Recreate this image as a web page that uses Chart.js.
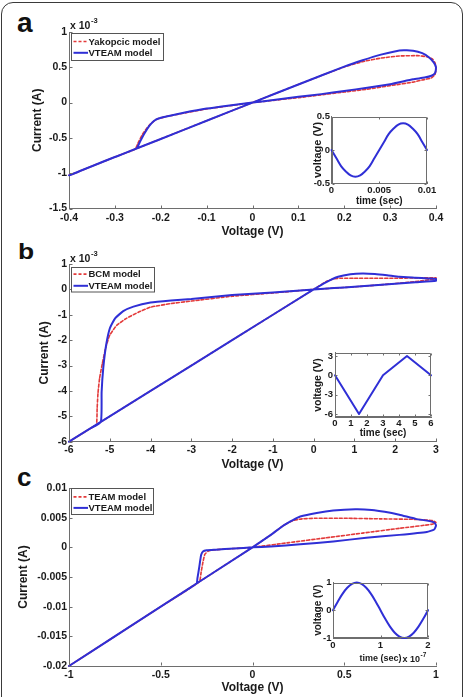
<!DOCTYPE html>
<html lang="en">
<head>
<meta charset="UTF-8">
<title>VTEAM model comparison</title>
<script src="https://cdn.jsdelivr.net/npm/chart.js"></script>
<style>
    body {
        margin: 0;
        background: #fff;
        width: 467px;
        height: 697px;
        overflow: hidden;
        position: relative;
        font-family: "Liberation Sans", Arial, sans-serif;
    }
    .frame {
        position: absolute;
        left: 1px;
        top: 2px;
        width: 460px;
        height: 730px;
        border: 1.5px solid #3a3a3a;
        border-radius: 12px;
    }
    canvas { position: absolute; }
    .letter {
        position: absolute;
        font-weight: bold;
        line-height: 1;
        color: #111;
        transform-origin: left top;
    }
</style>
</head>
<body>
<div class="frame"></div>
<div class="letter" style="left:17px;top:9px;font-size:28px">a</div>
<div class="letter" style="left:18px;top:241px;font-size:22px;transform:scaleX(1.2)">b</div>
<div class="letter" style="left:17px;top:464px;font-size:26px">c</div>

<canvas id="mainA" width="467" height="240" style="left:0;top:0"></canvas>
<canvas id="mainB" width="467" height="232" style="left:0;top:240px"></canvas>
<canvas id="mainC" width="467" height="225" style="left:0;top:472px"></canvas>
<canvas id="insetA" width="150" height="112" style="left:290px;top:100px"></canvas>
<canvas id="insetB" width="150" height="115" style="left:290px;top:335px"></canvas>
<canvas id="insetC" width="150" height="105" style="left:290px;top:565px"></canvas>

<script>
    // ---- panel a : voltage (V) / current (x 10^-3 A)
    const aXTicks = [-0.4, -0.3, -0.2, -0.1, 0, 0.1, 0.2, 0.3, 0.4];
    const aYTicks = [-1.5, -1, -0.5, 0, 0.5, 1];
    const aVteamV = [0, -0.05, -0.1, -0.15, -0.19, -0.205, -0.215, -0.225, -0.235, -0.245, -0.253, -0.3, -0.35, -0.4,
        -0.3, -0.2, -0.1, 0, 0.1, 0.2, 0.24, 0.28, 0.31, 0.33, 0.35, 0.37, 0.385, 0.395, 0.4,
        0.398, 0.39, 0.375, 0.35, 0.3, 0.25, 0.2, 0.15, 0.1, 0.05, 0];
    const aVteamI = [0, -0.04, -0.085, -0.145, -0.2, -0.225, -0.26, -0.33, -0.43, -0.55, -0.65, -0.77, -0.9, -1.03,
        -0.772, -0.515, -0.257, 0, 0.257, 0.51, 0.6, 0.68, 0.725, 0.74, 0.735, 0.7, 0.64, 0.57, 0.5,
        0.42, 0.38, 0.355, 0.33, 0.26, 0.21, 0.165, 0.12, 0.082, 0.04, 0];
    const aYakV = [0, -0.05, -0.1, -0.15, -0.19, -0.21, -0.225, -0.24, -0.25, -0.256, -0.3, -0.35, -0.4,
        -0.3, -0.2, -0.1, 0, 0.1, 0.2, 0.24, 0.28, 0.32, 0.36, 0.38, 0.392, 0.398, 0.4,
        0.398, 0.39, 0.37, 0.35, 0.3, 0.25, 0.2, 0.15, 0.1, 0.05, 0];
    const aYakI = [0, -0.045, -0.09, -0.15, -0.2, -0.24, -0.32, -0.45, -0.58, -0.66, -0.77, -0.9, -1.03,
        -0.772, -0.515, -0.257, 0, 0.257, 0.505, 0.58, 0.63, 0.66, 0.665, 0.65, 0.62, 0.56, 0.47,
        0.4, 0.35, 0.32, 0.29, 0.24, 0.19, 0.15, 0.11, 0.07, 0.035, 0];
    // inset a : sinusoidal input
    const aInsT = [0, 0.0005, 0.001, 0.0015, 0.002, 0.0025, 0.003, 0.0035, 0.004, 0.0045, 0.005,
        0.0055, 0.006, 0.0065, 0.007, 0.0075, 0.008, 0.0085, 0.009, 0.0095, 0.01];
    const aInsV = [0, -0.12, -0.24, -0.32, -0.38, -0.4, -0.38, -0.32, -0.24, -0.12, 0,
        0.12, 0.24, 0.32, 0.38, 0.4, 0.38, 0.32, 0.24, 0.12, 0];
    const aInsXTicks = [0, 0.005, 0.01];
    const aInsYTicks = [-0.5, 0, 0.5];

    // ---- panel b
    const bXTicks = [-6, -5, -4, -3, -2, -1, 0, 1, 2, 3];
    const bYTicks = [-6, -5, -4, -3, -2, -1, 0, 1];
    const bVteamV = [0, -1, -2, -3, -3.5, -4, -4.42, -4.67, -4.87, -5, -5.09, -5.16, -5.2, -5.22, -5.5, -6,
        -4, -2, 0, 0.3, 0.6, 0.9, 1.2, 1.5, 1.8, 2.1, 2.5, 2.8, 3,
        3, 2.5, 2, 1.5, 1, 0.5, 0];
    const bVteamI = [0, -0.12, -0.22, -0.38, -0.44, -0.52, -0.68, -0.86, -1.14, -1.54, -2.2, -3.1, -4.04, -5.22, -5.5, -6,
        -4, -2, 0, 0.28, 0.5, 0.6, 0.63, 0.61, 0.56, 0.5, 0.46, 0.43, 0.41,
        0.34, 0.28, 0.22, 0.16, 0.1, 0.05, 0];
    const bBcmV = [0, -1, -2, -3, -3.5, -4, -4.3, -4.6, -4.83, -5, -5.1, -5.18, -5.25, -5.29, -5.31, -5.33, -5.5, -6,
        -4, -2, 0, 0.3, 0.5, 0.7, 1, 1.5, 2, 2.5, 3,
        3, 2.5, 2, 1.5, 1, 0.5, 0];
    const bBcmI = [0, -0.14, -0.27, -0.46, -0.56, -0.7, -0.9, -1.15, -1.42, -1.8, -2.3, -2.9, -3.5, -4.1, -4.7, -5.33, -5.5, -6,
        -4, -2, 0, 0.3, 0.42, 0.44, 0.44, 0.44, 0.44, 0.45, 0.46,
        0.42, 0.31, 0.23, 0.16, 0.1, 0.05, 0];
    // inset b : triangular input
    const bInsT = [0, 1.5, 3, 4.5, 6];
    const bInsV = [0, -6, 0, 3, 0];
    const bInsXTicks = [0, 1, 2, 3, 4, 5, 6];
    const bInsYTicks = [-6, -3, 0, 3];

    // ---- panel c
    const cXTicks = [-1, -0.5, 0, 0.5, 1];
    const cYTicks = [-0.02, -0.015, -0.01, -0.005, 0, 0.005, 0.01];
    const cVteamV = [0, 0.1, 0.17, 0.22, 0.26, 0.35, 0.44, 0.56, 0.65, 0.72, 0.8, 0.89, 0.95, 0.99, 1,
        0.99, 0.95, 0.8, 0.62, 0.44, 0.26, 0.1, 0,
        -0.1, -0.2, -0.25, -0.27, -0.28, -0.29, -0.3, -0.305, -0.5, -0.75, -1, -0.5, 0];
    const cVteamI = [0, 0.0021, 0.0037, 0.0046, 0.0052, 0.0058, 0.0062, 0.0064, 0.0063, 0.006, 0.0055, 0.0048, 0.0045, 0.0042, 0.0037,
        0.003, 0.0026, 0.0021, 0.0016, 0.001, 0.0005, 0.00015, 0,
        -0.0002, -0.0004, -0.0005, -0.0007, -0.0013, -0.0033, -0.0052, -0.0061, -0.01, -0.015, -0.02, -0.01, 0];
    const cTeamV = [0, 0.1, 0.17, 0.22, 0.27, 0.35, 0.5, 0.7, 0.9, 0.98, 1,
        0.98, 0.8, 0.6, 0.4, 0.2, 0,
        -0.1, -0.2, -0.24, -0.26, -0.27, -0.28, -0.29, -0.5, -0.75, -1, -0.5, 0];
    const cTeamI = [0, 0.0021, 0.0037, 0.0045, 0.0048, 0.0049, 0.0049, 0.0048, 0.0047, 0.0045, 0.0042,
        0.0039, 0.0032, 0.0024, 0.0016, 0.0008, 0,
        -0.0002, -0.0004, -0.0006, -0.0012, -0.0025, -0.0042, -0.0058, -0.01, -0.015, -0.02, -0.01, 0];
    // inset c : sinusoidal input (time x 10^-7 s)
    const cInsT = [0, 0.1, 0.2, 0.3, 0.4, 0.5, 0.6, 0.7, 0.8, 0.9, 1,
        1.1, 1.2, 1.3, 1.4, 1.5, 1.6, 1.7, 1.8, 1.9, 2];
    const cInsV = [0, 0.31, 0.59, 0.81, 0.95, 1, 0.95, 0.81, 0.59, 0.31, 0,
        -0.31, -0.59, -0.81, -0.95, -1, -0.95, -0.81, -0.59, -0.31, 0];
    const cInsXTicks = [0, 1, 2];
    const cInsYTicks = [-1, 0, 1];

    const BLUE = '#2f2fd6';
    const RED = '#e33a3a';
    const AXIS = '#6e6e6e';
    const INK = '#1a1a1a';
    const FONT = '"Liberation Sans", Arial, sans-serif';

    Chart.defaults.font.family = FONT;
    Chart.defaults.font.weight = 'bold';
    Chart.defaults.color = INK;

    function pts(xs, ys) {
        return xs.map((x, i) => ({ x: x, y: ys[i] }));
    }

    // box, inward ticks, legend and the "x 10^n" note, matlab style
    const matlabAxes = {
        id: 'matlabAxes',
        beforeDraw(chart, args, o) {
            if (!o.inset) return;
            const a = chart.chartArea, c = chart.ctx;
            c.save();
            c.fillStyle = '#fff';
            c.fillRect(a.left, a.top, a.right - a.left, a.bottom - a.top);
            c.restore();
        },
        afterDatasetsDraw(chart, args, o) {
            const a = chart.chartArea, c = chart.ctx;
            const xs = chart.scales.x, ys = chart.scales.y;
            const L = Math.round(a.left) + 0.5, R = Math.round(a.right) - 0.5;
            const T = Math.round(a.top) + 0.5, B = Math.round(a.bottom) - 0.5;
            c.save();
            c.strokeStyle = AXIS;
            c.lineWidth = 1;
            c.beginPath();
            if (o.inset) c.rect(L, T, R - L, B - T);
            xs.ticks.forEach(t => {
                const p = Math.round(xs.getPixelForValue(t.value)) + 0.5;
                c.moveTo(p, B); c.lineTo(p, B - o.tick);
                if (o.inset) { c.moveTo(p, T); c.lineTo(p, T + o.tick); }
            });
            ys.ticks.forEach(t => {
                const p = Math.round(ys.getPixelForValue(t.value)) + 0.5;
                c.moveTo(L, p); c.lineTo(L + o.tick, p);
                if (o.inset) { c.moveTo(R, p); c.lineTo(R - o.tick, p); }
            });
            c.stroke();
            c.restore();
        },
        afterDraw(chart, args, o) {
            const a = chart.chartArea, c = chart.ctx;
            c.save();
            if (o.sci) {
                const s = o.sci;
                c.fillStyle = INK;
                c.textAlign = 'left';
                c.textBaseline = 'alphabetic';
                c.font = 'bold ' + s.fs + 'px ' + FONT;
                const x = a.left + s.dx, y = a.top + s.dy;
                c.fillText(s.base, x, y);
                const w = c.measureText(s.base).width;
                c.font = 'bold ' + (s.fs * 0.72) + 'px ' + FONT;
                c.fillText(s.exp, x + w + 0.5, y - s.rise);
            }
            if (o.legend) {
                const g = o.legend;
                const x = Math.round(a.left + g.dx) + 0.5, y = Math.round(a.top + g.dy) + 0.5;
                c.fillStyle = '#fff';
                c.fillRect(x, y, g.w, g.h);
                c.strokeStyle = '#555';
                c.lineWidth = 1;
                c.strokeRect(x, y, g.w, g.h);
                c.font = 'bold 9.5px ' + FONT;
                c.textBaseline = 'middle';
                c.textAlign = 'left';
                chart.data.datasets.forEach((d, i) => {
                    const ry = y + g.rows[i];
                    c.strokeStyle = d.borderColor;
                    c.lineWidth = d.borderWidth;
                    c.setLineDash(d.borderDash || []);
                    c.beginPath();
                    c.moveTo(x + 2, ry);
                    c.lineTo(x + 16.5, ry);
                    c.stroke();
                    c.setLineDash([]);
                    c.fillStyle = INK;
                    c.fillText(d.label, x + 17, ry + 0.5);
                });
            }
            c.restore();
        }
    };

    function axis(min, max, tickVals, o) {
        return {
            type: 'linear',
            min: min,
            max: max,
            afterBuildTicks: s => { s.ticks = tickVals.map(v => ({ value: v })); },
            afterFit: s => {
                if (o.w != null) s.width = o.w;
                if (o.h != null) s.height = o.h;
            },
            grid: { display: false, drawTicks: false },
            border: { display: true, color: AXIS, width: 1 },
            ticks: {
                autoSkip: false, maxRotation: 0, minRotation: 0,
                padding: o.pad, color: INK,
                font: { size: o.fs, weight: 'bold' },
                callback: v => String(v)
            },
            title: {
                display: true, text: o.title, color: INK,
                font: { size: o.tfs, weight: 'bold' },
                padding: o.tpad
            }
        };
    }

    function lineSet(label, data, color, width, dash, order, tension) {
        return {
            label: label, data: data, showLine: true,
            borderColor: color, borderWidth: width, borderDash: dash,
            pointRadius: 0, fill: false, clip: false, order: order,
            tension: tension, borderJoinStyle: 'round', borderCapStyle: 'round'
        };
    }

    function makeChart(id, datasets, xAxis, yAxis, padding, plug) {
        return new Chart(document.getElementById(id), {
            type: 'scatter',
            data: { datasets: datasets },
            options: {
                responsive: false,
                animation: false,
                devicePixelRatio: 1,
                layout: { padding: padding },
                plugins: { legend: { display: false }, tooltip: { enabled: false }, matlabAxes: plug },
                scales: { x: xAxis, y: yAxis }
            },
            plugins: [matlabAxes]
        });
    }

    // main plots
    makeChart('mainA', [
            lineSet('Yakopcic model', pts(aYakV, aYakI), RED, 1.6, [3, 2], 1, 0.15),
            lineSet('VTEAM model', pts(aVteamV, aVteamI), BLUE, 2, [], 0, 0.15)
        ],
        axis(-0.4, 0.4, aXTicks, { h: 31.5, pad: 3.7, fs: 10.5, title: 'Voltage (V)', tfs: 12, tpad: { top: 0, bottom: 0.8 } }),
        axis(-1.5, 1, aYTicks, { w: 69, pad: 2, fs: 10.5, title: 'Current (A)', tfs: 12, tpad: { top: 30.8, bottom: 0 } }),
        { left: 0, right: 31, top: 32, bottom: 0 },
        { inset: false, tick: 3,
          legend: { dx: 1.5, dy: 1, w: 92, h: 27, rows: [8, 19.3] },
          sci: { base: 'x 10', exp: '-3', dx: 1, dy: -3.2, fs: 10.5, rise: 5.5 } });

    makeChart('mainB', [
            lineSet('BCM model', pts(bBcmV, bBcmI), RED, 1.6, [3, 2], 1, 0.15),
            lineSet('VTEAM model', pts(bVteamV, bVteamI), BLUE, 2, [], 0, 0.15)
        ],
        axis(-6, 3, bXTicks, { h: 30.3, pad: 2, fs: 10.5, title: 'Voltage (V)', tfs: 12, tpad: { top: 0, bottom: 0.5 } }),
        axis(-6, 1, bYTicks, { w: 69, pad: 2, fs: 10.5, title: 'Current (A)', tfs: 12, tpad: { top: 37.8, bottom: 0 } }),
        { left: 0, right: 31, top: 24, bottom: 0 },
        { inset: false, tick: 3,
          legend: { dx: 1.5, dy: 2.5, w: 83, h: 24.5, rows: [6.6, 18.3] },
          sci: { base: 'x 10', exp: '-3', dx: 1, dy: -2.5, fs: 10.5, rise: 5.5 } });

    makeChart('mainC', [
            lineSet('TEAM model', pts(cTeamV, cTeamI), RED, 1.6, [3, 2], 1, 0.15),
            lineSet('VTEAM model', pts(cVteamV, cVteamI), BLUE, 2, [], 0, 0.15)
        ],
        axis(-1, 1, cXTicks, { h: 31, pad: 2.7, fs: 10.5, title: 'Voltage (V)', tfs: 12, tpad: { top: 0, bottom: 1.8 } }),
        axis(-0.02, 0.01, cYTicks, { w: 69, pad: 2, fs: 10.5, title: 'Current (A)', tfs: 12, tpad: { top: 16.8, bottom: 0 } }),
        { left: 0, right: 31, top: 16, bottom: 0 },
        { inset: false, tick: 3,
          legend: { dx: 1.5, dy: 0.3, w: 82, h: 26, rows: [8.4, 19.4] } });

    // insets
    makeChart('insetA', [lineSet('input', pts(aInsT, aInsV), BLUE, 2, [], 0, 0.4)],
        axis(0, 0.01, aInsXTicks, { h: 28.5, pad: 1.3, fs: 9.5, title: 'time (sec)', tfs: 10, tpad: { top: 0, bottom: 5 } }),
        axis(-0.5, 0.5, aInsYTicks, { w: 41.5, pad: 1.5, fs: 9.5, title: 'voltage (V)', tfs: 11, tpad: { top: 21.7, bottom: 0 } }),
        { left: 0, right: 13, top: 16.5, bottom: 0 },
        { inset: true, tick: 2 });

    makeChart('insetB', [lineSet('input', pts(bInsT, bInsV), BLUE, 2, [], 0, 0)],
        axis(0, 6, bInsXTicks, { h: 32.7, pad: 0.5, fs: 9.5, title: 'time (sec)', tfs: 10, tpad: { top: 0, bottom: 10.5 } }),
        axis(-6.5, 3.5, bInsYTicks, { w: 45, pad: 2, fs: 9.5, title: 'voltage (V)', tfs: 10.5, tpad: { top: 21.7, bottom: 0 } }),
        { left: 0, right: 9, top: 17.7, bottom: 0 },
        { inset: true, tick: 2 });

    makeChart('insetC', [lineSet('input', pts(cInsT, cInsV), BLUE, 2, [], 0, 0.4)],
        axis(0, 2, cInsXTicks, { h: 32, pad: 1.3, fs: 9.5, title: 'time (sec)', tfs: 9, tpad: { top: 0, bottom: 6.3 } }),
        axis(-1, 1, cInsYTicks, { w: 43, pad: 1.5, fs: 9.5, title: 'voltage (V)', tfs: 10, tpad: { top: 22.3, bottom: 0 } }),
        { left: 0, right: 12, top: 17.5, bottom: 0 },
        { inset: true, tick: 2,
          sci: { base: 'x 10', exp: '-7', dx: 69.5, dy: 79, fs: 9, rise: 4.5 } });
</script>
</body>
</html>
